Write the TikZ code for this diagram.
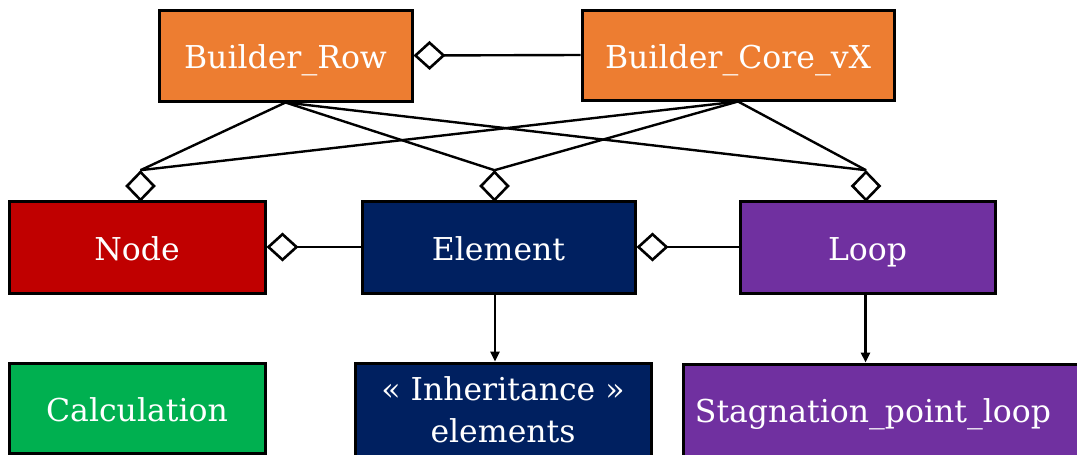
\documentclass[tikz,border=0pt]{standalone}
\usepackage{fontspec}
\setmainfont{DejaVu Serif}
\usetikzlibrary{arrows.meta,shapes.geometric}
\definecolor{corange}{HTML}{ED7D31}
\definecolor{cred}{HTML}{C00000}
\definecolor{cnavy}{HTML}{002060}
\definecolor{cpurple}{HTML}{7030A0}
\definecolor{cgreen}{HTML}{00B050}
\begin{document}
\begin{tikzpicture}[x=1pt,y=-1pt,
  box/.style={draw=black,line width=3pt,text=white,font=\fontsize{31.5}{36}\selectfont,inner sep=0pt,anchor=center,text height=26pt,text depth=0pt},
  lbl/.style={text=white,font=\fontsize{31.5}{42}\selectfont,inner sep=0pt,anchor=center},
  conn/.style={draw=black,line width=2.4pt},
  agg/.style={diamond,draw=black,line width=2.6pt,fill=white,minimum width=28pt,minimum height=29pt,inner sep=0pt},
  aggtip/.style={-{Diamond[open,length=32pt,width=29pt,line width=2.6pt]}},
  gen/.style={-{Triangle[length=10pt,width=9pt]}}]
\useasboundingbox (0,0) rectangle (1077,455);
\begin{scope}
\clip (0,0) rectangle (1077,455);
\node[box,fill=corange,minimum width=253pt,minimum height=91pt] (brow) at (285.5,55.5) {Builder\_Row};
\node[box,fill=corange,minimum width=312pt,minimum height=90pt] (bcore) at (738,55) {Builder\_Core\_vX};
\node[box,fill=cred,minimum width=256pt,minimum height=92pt] (nd) at (137,247) {Node};
\node[box,fill=cnavy,minimum width=273pt,minimum height=92pt] (elem) at (498.5,247) {Element};
\node[box,fill=cpurple,minimum width=255pt,minimum height=92pt] (loop) at (867.5,247) {Loop};
\node[box,fill=cgreen,minimum width=256pt,minimum height=90pt] (calc) at (137,408) {Calculation};
\node[box,fill=cnavy,minimum width=296pt,minimum height=110pt] (inh) at (503,418) {};
\node[lbl,align=center] (inhtext) at (503,410) {« Inheritance »\\elements};
\node[box,fill=cpurple,minimum width=410pt,minimum height=110pt] (stag) at (888,419) {};
\node[lbl,text height=26pt,text depth=0pt] (stagtext) at (873,409) {Stagnation\_point\_loop};
\end{scope}
% aggregation diamonds above row 2
\node[agg] (dnd) at (140.5,186) {};
\node[agg] (del) at (494.5,186) {};
\node[agg] (dlo) at (866,186) {};
\foreach \s in {brow,bcore}{
  \foreach \t in {dnd,del,dlo}{
    \draw[conn] (\s.south) -- (\t.north);
  }
}
\draw[conn,aggtip] (bcore.west) -- (brow.east);
\draw[conn,aggtip] (elem.west) -- (nd.east);
\draw[conn,aggtip] (loop.west) -- (elem.east);
\draw[conn,gen] ([xshift=-3.5pt]elem.south) -- ([xshift=-3.5pt]elem.south |- inh.north);
\draw[conn,gen] ([xshift=-2pt]loop.south) -- ([xshift=-2pt]loop.south |- stag.north);
\end{tikzpicture}
\end{document}
